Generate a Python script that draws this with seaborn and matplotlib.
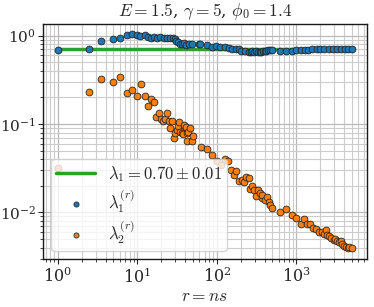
import numpy as np
import pandas as pd
import matplotlib
matplotlib.use('Agg')
import matplotlib.pyplot as plt
import seaborn as sns

# Values
r_blue = [1, 2.48, 3.47, 4.97, 5.97, 7.4, 8.45, 9.85, 10.9, 12.3, 13.5, 14.7, 16.1,
          17.6, 19.4, 21.3, 23.7, 25.9, 28, 29.3, 30.9, 32.4, 34, 36.7, 39, 41,
          44, 49, 60, 62, 75, 86, 98, 110, 125, 140, 156, 175, 190, 203, 223, 250,
          265, 280, 295, 312, 328, 344, 362, 380, 400, 417, 440, 460, 496, 625,
          746, 870, 1000, 1130, 1270, 1400, 1580, 1800, 2000, 2250, 2550, 2850,
          3200, 3600, 4100, 4500, 5000]
lam1_r = [0.694, 0.70, 0.865, 0.917, 0.942, 1.01, 1.04, 1.01, 0.99, 1.01, 0.97,
          0.935, 0.97, 0.95, 0.96, 0.95, 0.935, 0.94, 0.935, 0.91, 0.88, 0.84,
          0.81, 0.80, 0.82, 0.79, 0.805, 0.81, 0.805, 0.805, 0.79, 0.74, 0.76,
          0.75, 0.745, 0.72, 0.71, 0.71, 0.70, 0.68, 0.67, 0.66, 0.655, 0.665,
          0.66, 0.665, 0.655, 0.66, 0.66, 0.665, 0.67, 0.675, 0.685, 0.69, 0.694,
          0.675, 0.675, 0.68, 0.69, 0.69, 0.69, 0.694, 0.70, 0.707, 0.71, 0.71,
          0.71, 0.71, 0.707, 0.707, 0.707, 0.707, 0.707]

r_orange = [1, 2.45, 3.5, 4.97, 5.97, 7.47, 8.45, 9.97, 11.0, 12.4, 13.5, 14.8,
            16.0, 17.3, 18.5, 20.0, 20.9, 22.5, 23.5, 24.9, 25.9, 27.5, 28.5,
            30.0, 31.1, 32.7, 33.3, 34.2, 36.0, 37.4, 38.9, 40.4, 42.0, 43.2,
            42.0, 45.4, 48.1, 49.5, 62.4, 74.2, 87.5, 100, 112, 125, 139, 152,
            162, 172, 189, 206, 219, 234, 253, 263, 279, 290, 307, 328, 344,
            365, 373, 398, 430, 447, 469, 498, 620, 746, 877, 997, 1130, 1243,
            1371, 1479, 1614, 1760, 1920, 2075, 2200, 2330, 2450, 2565, 2750,
            2940, 3085, 3267, 3465, 3630, 3780, 4005, 4245, 4405, 4625, 4945]
lam2_r = [0.0315, 0.232, 0.321, 0.297, 0.341, 0.226, 0.245, 0.209, 0.284, 0.207,
          0.159, 0.192, 0.178, 0.119, 0.132, 0.115, 0.108, 0.113, 0.133, 0.108,
          0.0908, 0.108, 0.0694, 0.079, 0.0855, 0.0942, 0.106, 0.0818, 0.0785,
          0.0764, 0.0967, 0.0925, 0.0785, 0.0812, 0.0637, 0.0908, 0.0637,
          0.0726, 0.0553, 0.0517, 0.0449, 0.0386, 0.0346, 0.0398, 0.0378,
          0.0301, 0.0264, 0.0296, 0.0224, 0.0232, 0.0222, 0.0253, 0.0243,
          0.0185, 0.0200, 0.0179, 0.0153, 0.0179, 0.0167, 0.0144, 0.0157,
          0.0138, 0.0148, 0.0131, 0.0121, 0.0111, 0.0101, 0.0108, 0.0093,
          0.0087, 0.00743, 0.00847, 0.00738, 0.00743, 0.00664, 0.00641,
          0.00603, 0.00598, 0.00573, 0.00631, 0.00553, 0.00539, 0.00508,
          0.0049, 0.00503, 0.00477, 0.00464, 0.00477, 0.00441, 0.00415,
          0.00401, 0.00391, 0.00401, 0.00397]

lam1_fit = 0.70
lam1_err = 0.01
title = r'$E=1.5$, $\gamma=5$, $\phi_0=1.4$'

sns.set_style('ticks')
plt.rcParams['font.family'] = ['serif']
plt.rcParams['font.serif'] = ['DejaVu Serif']
plt.rcParams['mathtext.fontset'] = 'cm'
plt.rcParams['axes.formatter.use_mathtext'] = True

fig, ax = plt.subplots(figsize=(3.74, 3.07), dpi=100)
fig.subplots_adjust(left=0.115, right=0.981, top=0.922, bottom=0.156)

fit_line = pd.DataFrame({'r': [min(r_blue), max(r_blue)], 'y': [lam1_fit, lam1_fit]})
sns.lineplot(data=fit_line, x='r', y='y', color='#2ca02c', linewidth=2.5, ax=ax,
             label=r'$\lambda_1 = %.2f \pm %.2f$' % (lam1_fit, lam1_err), zorder=3)
sns.scatterplot(x=r_blue, y=lam1_r, color='#1f77b4', edgecolor='0.15', linewidth=0.6,
                s=24, ax=ax, label=r'$\lambda_1^{(r)}$', zorder=4)
sns.scatterplot(x=r_orange, y=lam2_r, color='#ff7f0e', edgecolor='0.15', linewidth=0.6,
                s=24, ax=ax, label=r'$\lambda_2^{(r)}$', zorder=4)

ax.set_xscale('log')
ax.set_yscale('log')
ax.set_xlim(0.65, 7700)
ax.set_ylim(0.00296, 1.36)
ax.grid(which='major', color='0.72', linewidth=0.9)
ax.grid(which='minor', color='0.8', linewidth=0.8)
ax.set_axisbelow(True)
for sp in ax.spines.values():
    sp.set_color('0.1')
    sp.set_linewidth(1.0)
ax.tick_params(axis='x', labelsize=11.5, pad=2.5)
ax.tick_params(axis='y', labelsize=11, pad=1.5)

ax.set_title(title, fontsize=12.5)
ax.set_xlabel(r'$r = ns$', fontsize=12.5, labelpad=1)
ax.set_ylabel('')

ax.legend(loc='lower left', fontsize=12, markerscale=0.75, labelspacing=0.2,
          handlelength=2.3, framealpha=0.8, borderaxespad=0.5, borderpad=0.3)

fig.savefig('out.png', dpi=100)
